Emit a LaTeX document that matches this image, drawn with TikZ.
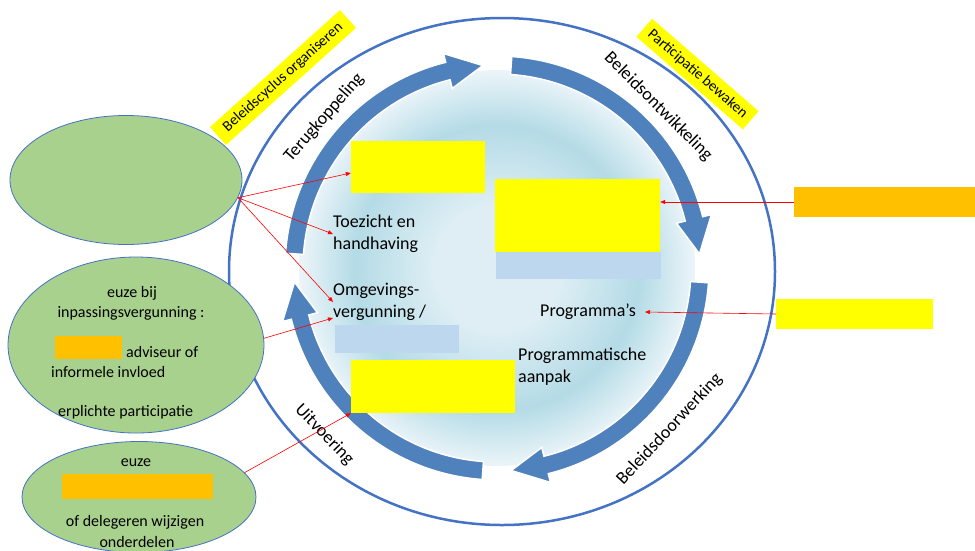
\documentclass[tikz,border=0pt]{standalone}
\usepackage{fontspec}
\setmainfont{Carlito}
\usetikzlibrary{shapes.geometric,calc,arrows.meta}

\definecolor{cycleblue}{RGB}{79,129,189}
\definecolor{ringblue}{RGB}{68,114,196}
\definecolor{leafgreen}{RGB}{169,209,142}
\definecolor{hlyellow}{RGB}{255,255,0}
\definecolor{hlorange}{RGB}{255,192,0}
\definecolor{paleblue}{RGB}{189,215,238}
\definecolor{diskin}{RGB}{222,238,244}
\definecolor{diskmid}{RGB}{180,219,230}
\definecolor{diskout}{RGB}{236,245,249}
\pgfdeclareradialshading{disk}{\pgfpoint{0bp}{0bp}}{color(0bp)=(diskin); color(8bp)=(diskin); color(18bp)=(diskmid); color(25bp)=(diskout); color(50bp)=(diskout)}

\tikzset{
  txt/.style={font=\fontsize{18}{22}\selectfont, inner sep=0pt, align=left},
  small/.style={font=\fontsize{16}{20}\selectfont, inner sep=0pt},
  arclbl/.style={font=\fontsize{18}{22}\selectfont, inner sep=0pt},
  tag/.style={fill=hlyellow, font=\fontsize{15}{18}\selectfont, inner sep=0pt, minimum height=24},
  box/.style={fill=hlyellow, inner sep=0pt},
  mask/.style={fill=hlorange, inner sep=0pt},
  pale/.style={fill=paleblue, inner sep=0pt},
  leaf/.style={ellipse, fill=leafgreen, draw=ringblue, line width=0.8pt, inner sep=0pt},
  cyc/.style={fill=cycleblue, draw=white, line width=1.5pt},
  link/.style={red, line width=0.6pt, -{Triangle[length=5pt,width=4pt]}}
}

\begin{document}
\begin{tikzpicture}[x=1pt,y=-1pt]
  \useasboundingbox (0,0) rectangle (975,550);
  \fill[white] (0,0) rectangle (975,550);

  \coordinate (ctr) at (497,268);
  \shade[shading=disk] (ctr) circle[radius=198];
  \draw[ringblue, line width=2.5pt] (502,271.5) ellipse[x radius=273, y radius=253.5];

  \begin{scope}[shift={(ctr)}, x=1pt, y=1pt]
    \path[cyc] (176:212) arc[start angle=176, end angle=104, radius=212] -- (104:221) -- (94:203) -- (104:185) -- (104:194) arc[start angle=104, end angle=176, radius=194] -- cycle;
    \path[cyc] (86:212) arc[start angle=86, end angle=14, radius=212] -- (14:221) -- (4:203) -- (14:185) -- (14:194) arc[start angle=14, end angle=86, radius=194] -- cycle;
    \path[cyc] (-4:212) arc[start angle=-4, end angle=-76, radius=212] -- (-76:221) -- (-86:203) -- (-76:185) -- (-76:194) arc[start angle=-76, end angle=-4, radius=194] -- cycle;
    \path[cyc] (-94:212) arc[start angle=-94, end angle=-166, radius=212] -- (-166:221) -- (-176:203) -- (-166:185) -- (-166:194) arc[start angle=-166, end angle=-94, radius=194] -- cycle;
    \node[arclbl, rotate=49] (terug) at (139:229) {Terugkoppeling};
    \node[arclbl, rotate=-45] (ontw) at (45:228) {Beleidsontwikkeling};
    \node[arclbl, rotate=47] (doorw) at (-43:236) {Beleidsdoorwerking};
    \node[arclbl, rotate=-46] (uitv) at (-136:240) {Uitvoering};
  \end{scope}

  % labels on the ring
  \node[tag, rotate=42, minimum width=175] (organ) at (283,77.5) {Beleidscyclus organiseren};
  \node[tag, rotate=-41, minimum width=141] (bewak) at (697.5,74) {Participatie bewaken};

  % ellipses left
  \node[leaf, minimum width=232, minimum height=129] (ell1) at (126,180) {};
  \node[leaf, minimum width=256, minimum height=176] (ell2) at (136,345) {};
  \node[leaf, minimum width=234, minimum height=111] (ell3) at (139,497) {};

  \node[small] (euze1) at (132,293) {euze bij};
  \node[small] (inpas) at (131,313) {inpassingsvergunning :};
  \node[mask, minimum width=67, minimum height=23] (mask1) at (88.5,347.5) {};
  \node[small, anchor=west] (advis) at (126,352) {adviseur of};
  \node[small, anchor=west] (invl) at (51,372) {informele invloed};
  \node[small, anchor=west] (verpl) at (58,412) {erplichte participatie};

  \node[small] (euze2) at (136,463) {euze};
  \node[mask, minimum width=151, minimum height=25] (mask2) at (137.5,486.5) {};
  \node[small] (deleg) at (135,522) {of delegeren wijzigen};
  \node[small] (onder) at (137,542) {onderdelen};

  % inside the cycle
  \node[box, minimum width=134, minimum height=52] (geel1) at (418,167) {};
  \node[box, minimum width=165, minimum height=73] (geel2) at (577.5,215.5) {};
  \node[pale, minimum width=165, minimum height=27] (blauw1) at (578.5,265.5) {};
  \node[pale, minimum width=124, minimum height=28] (blauw2) at (397,339) {};
  \node[box, minimum width=164, minimum height=53] (geel3) at (433,386.5) {};

  \node[txt, anchor=west] (toez) at (333,234) {Toezicht en\\handhaving};
  \node[txt, anchor=west] (omgev) at (333,302) {Omgevings-\\vergunning /};
  \node[txt, anchor=west] (progr) at (540,312) {Programma’s};
  \node[txt, anchor=west] (aanpak) at (518,367) {Programmatische\\aanpak};

  % right side
  \node[mask, minimum width=181, minimum height=30, anchor=west] (oranje) at (794,202) {};
  \node[box, minimum width=157, minimum height=30, anchor=west] (geelr) at (776,314) {};

  % red links
  \draw[link] (ell1.-9) -- ([yshift=-6pt]geel1.west);
  \draw[link] (ell1.-9) -- (toez.west);
  \draw[link] (ell1.-9) -- (omgev.west);
  \draw[link] (ell2.3) -- ([yshift=-16pt]omgev.west);
  \draw[link] (ell3.13) -- (geel3.south west);
  \draw[link] (oranje.west) -- (geel2.east |- oranje.west);
  \draw[link] (geelr.west) -- ([xshift=9pt]progr.east);
\end{tikzpicture}
\end{document}
